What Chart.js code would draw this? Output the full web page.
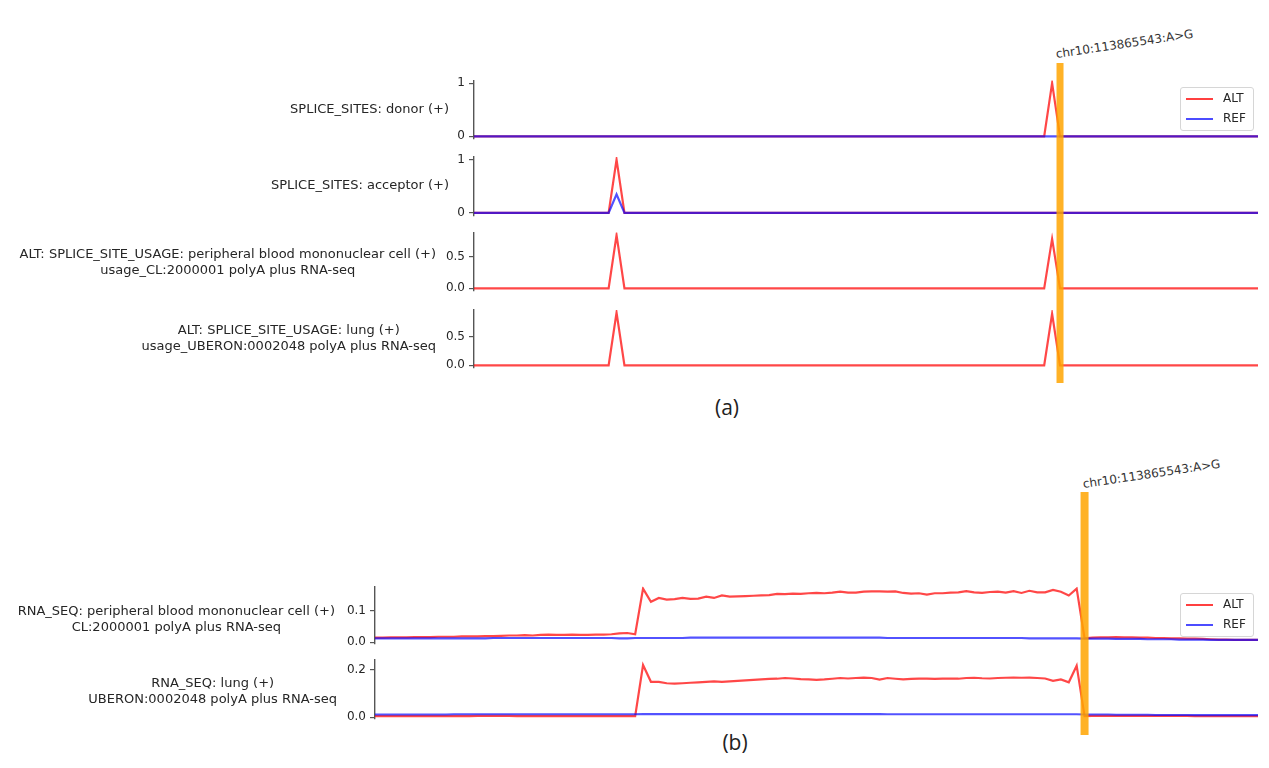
<!DOCTYPE html>
<html>
<head>
<meta charset="utf-8">
<script src="https://cdn.jsdelivr.net/npm/chart.js@4.4.1/dist/chart.umd.min.js"></script>
<style>
  html, body { margin:0; padding:0; background:#fff; width:1269px; height:768px; overflow:hidden; font-family:"DejaVu Sans", sans-serif; }
  .plot { position:absolute; }
  .lab { position:absolute; font-size:13px; color:#262626; text-align:center; white-space:pre; line-height:16px; transform:translateY(-50%); z-index:3; }
  .panel { position:absolute; font-family:"Open Sans", sans-serif; font-size:21px; color:#222; transform:translate(-50%,-50%); }
  .variant { position:absolute; font-size:12px; color:#333; white-space:nowrap; transform-origin:0% 100%; transform:rotate(-8.5deg); z-index:3; }
  .legend { position:absolute; width:72px; height:42px; border:1px solid #d6d6d6; border-radius:3px; background:rgba(255,255,255,0.85); z-index:4; font-size:12px; color:#262626; }
  .legend .row { position:absolute; left:5px; height:14px; }
  .legend .sw { position:absolute; left:0; top:6px; width:27px; height:2px; }
  .legend .tx { position:absolute; left:37px; top:-1px; line-height:14px; }
</style>
</head>
<body>

<!-- left labels (panel a) -->
<div class="lab" style="right:820px; top:109px;">SPLICE_SITES: donor (+)</div>
<div class="lab" style="right:820px; top:185px;">SPLICE_SITES: acceptor (+)</div>
<div class="lab" style="right:833px; top:261.5px;">ALT: SPLICE_SITE_USAGE: peripheral blood mononuclear cell (+)
usage_CL:2000001 polyA plus RNA-seq</div>
<div class="lab" style="right:833px; top:338px;">ALT: SPLICE_SITE_USAGE: lung (+)
usage_UBERON:0002048 polyA plus RNA-seq</div>
<!-- left labels (panel b) -->
<div class="lab" style="right:934px; top:619px;">RNA_SEQ: peripheral blood mononuclear cell (+)
CL:2000001 polyA plus RNA-seq</div>
<div class="lab" style="right:932px; top:691px;">RNA_SEQ: lung (+)
UBERON:0002048 polyA plus RNA-seq</div>

<div class="variant" style="left:1057px; top:47px;">chr10:113865543:A&gt;G</div>
<div class="variant" style="left:1084px; top:477px;">chr10:113865543:A&gt;G</div>

<div class="legend" style="left:1180px; top:87px;">
  <div class="row" style="top:4px;"><div class="sw" style="background:rgba(255,0,0,0.75)"></div><div class="tx">ALT</div></div>
  <div class="row" style="top:24px;"><div class="sw" style="background:rgba(0,0,255,0.7)"></div><div class="tx">REF</div></div>
</div>
<div class="legend" style="left:1180px; top:593px;">
  <div class="row" style="top:4px;"><div class="sw" style="background:rgba(255,0,0,0.75)"></div><div class="tx">ALT</div></div>
  <div class="row" style="top:24px;"><div class="sw" style="background:rgba(0,0,255,0.7)"></div><div class="tx">REF</div></div>
</div>

<div class="panel" style="left:727px; top:407px;">(a)</div>
<div class="panel" style="left:735px; top:742px;">(b)</div>

<script>
// ---------------- DATA ----------------
// Panel (a): splice-site tracks, x = bin index (0..99), variant at bin 74
const spliceXMax = 99;
const variantBinA = 74;
const donorPos    = [0, 72, 73, 74, 99];
const donorAlt    = [0, 0, 1.0, 0, 0];
const donorRef    = [0, 0, 0, 0, 0];
const acceptorPos = [0, 17, 18, 19, 99];
const acceptorAlt = [0, 0, 1.0, 0, 0];
const acceptorRef = [0, 0, 0.35, 0, 0];
const usagePos     = [0, 17, 18, 19, 72, 73, 74, 99];
const usagePbmcAlt = [0, 0, 0.85, 0, 0, 0.79, 0, 0];
const usageLungAlt = [0, 0, 0.93, 0, 0, 0.91, 0, 0];

// Panel (b): RNA-seq coverage, x = bin index (0..112), variant at bin 90
const variantBinB = 90;
const rnaPos = [0,1,2,3,4,5,6,7,8,9,10,11,12,13,14,15,16,17,18,19,20,21,22,23,24,25,26,27,28,29,
  30,31,32,33,34,35,36,37,38,39,40,41,42,43,44,45,46,47,48,49,50,51,52,53,54,55,56,57,58,59,
  60,61,62,63,64,65,66,67,68,69,70,71,72,73,74,75,76,77,78,79,80,81,82,83,84,85,86,87,88,89,
  90,91,92,93,94,95,96,97,98,99,100,101,102,103,104,105,106,107,108,109,110,111,112];
const rnaPbmcAlt = [
  0.015,0.015,0.016,0.016,0.016,0.017,0.017,0.017,0.018,0.018,
  0.018,0.019,0.019,0.019,0.020,0.020,0.021,0.022,0.022,0.023,
  0.022,0.024,0.025,0.024,0.024,0.025,0.024,0.024,0.025,0.025,
  0.026,0.029,0.030,0.026,0.172,0.130,0.142,0.137,0.138,0.142,
  0.139,0.140,0.146,0.142,0.150,0.146,0.147,0.148,0.149,0.150,
  0.151,0.155,0.154,0.156,0.155,0.157,0.158,0.157,0.159,0.162,
  0.159,0.159,0.162,0.163,0.163,0.162,0.163,0.158,0.156,0.157,
  0.153,0.157,0.157,0.159,0.160,0.164,0.160,0.158,0.161,0.162,
  0.159,0.164,0.158,0.165,0.160,0.160,0.168,0.162,0.150,0.172,
  0.013,0.015,0.016,0.016,0.017,0.016,0.016,0.015,0.015,0.014,
  0.014,0.013,0.013,0.012,0.012,0.011,0.010,0.009,0.009,0.008,
  0.008,0.008,0.008];
const rnaPbmcRef = [
  0.013,0.013,0.013,0.013,0.013,0.013,0.013,0.013,0.013,0.013,
  0.013,0.013,0.013,0.013,0.013,0.014,0.014,0.014,0.014,0.014,
  0.014,0.014,0.014,0.014,0.014,0.014,0.014,0.014,0.014,0.014,
  0.014,0.013,0.013,0.014,0.014,0.014,0.014,0.014,0.014,0.014,
  0.015,0.015,0.015,0.015,0.015,0.015,0.015,0.015,0.015,0.015,
  0.015,0.015,0.015,0.015,0.015,0.015,0.015,0.015,0.015,0.015,
  0.015,0.015,0.015,0.015,0.015,0.014,0.014,0.014,0.014,0.014,
  0.014,0.014,0.014,0.014,0.014,0.014,0.014,0.014,0.014,0.014,
  0.014,0.014,0.014,0.013,0.013,0.013,0.013,0.013,0.013,0.013,
  0.012,0.012,0.012,0.012,0.011,0.011,0.011,0.011,0.010,0.010,
  0.010,0.010,0.009,0.009,0.009,0.009,0.008,0.008,0.008,0.008,
  0.008,0.008,0.008];
const rnaLungAlt = [
  0.005,0.005,0.005,0.005,0.005,0.005,0.005,0.005,0.005,0.005,
  0.005,0.005,0.005,0.006,0.006,0.006,0.006,0.006,0.005,0.005,
  0.005,0.005,0.005,0.005,0.005,0.005,0.005,0.005,0.005,0.005,
  0.005,0.005,0.005,0.005,0.221,0.150,0.150,0.144,0.142,0.144,
  0.146,0.148,0.150,0.152,0.150,0.152,0.154,0.156,0.158,0.160,
  0.162,0.163,0.166,0.164,0.161,0.160,0.158,0.160,0.163,0.166,
  0.164,0.166,0.168,0.166,0.159,0.166,0.163,0.160,0.162,0.163,
  0.163,0.162,0.163,0.164,0.163,0.166,0.167,0.165,0.164,0.166,
  0.167,0.168,0.167,0.168,0.166,0.164,0.154,0.160,0.148,0.218,
  0.005,0.006,0.006,0.006,0.006,0.006,0.006,0.006,0.006,0.006,
  0.006,0.006,0.006,0.006,0.005,0.005,0.005,0.005,0.005,0.005,
  0.005,0.005,0.005];
const rnaLungRef = [
  0.012,0.012,0.012,0.012,0.012,0.012,0.012,0.012,0.012,0.012,
  0.013,0.013,0.013,0.013,0.013,0.013,0.013,0.013,0.013,0.013,
  0.013,0.013,0.013,0.013,0.013,0.013,0.013,0.013,0.013,0.013,
  0.013,0.013,0.013,0.013,0.014,0.014,0.014,0.014,0.014,0.014,
  0.014,0.014,0.014,0.014,0.014,0.014,0.014,0.014,0.014,0.014,
  0.014,0.014,0.014,0.014,0.014,0.014,0.014,0.014,0.014,0.014,
  0.014,0.014,0.014,0.014,0.014,0.013,0.013,0.013,0.013,0.013,
  0.013,0.013,0.013,0.013,0.013,0.013,0.013,0.013,0.013,0.013,
  0.013,0.013,0.013,0.013,0.013,0.013,0.013,0.013,0.013,0.013,
  0.012,0.012,0.012,0.012,0.011,0.011,0.011,0.011,0.011,0.010,
  0.010,0.010,0.010,0.010,0.009,0.009,0.009,0.009,0.009,0.009,
  0.009,0.009,0.009];

// ---------------- DRAWING ----------------
const ALT_COLOR = 'rgba(255,0,0,0.72)';
const REF_COLOR = 'rgba(0,0,255,0.68)';

const variantBar = {
  id: 'variantBar',
  afterDatasetsDraw(chart, args, opts) {
    const x = chart.scales.x.getPixelForValue(opts.at);
    const ctx = chart.ctx;
    ctx.save();
    ctx.fillStyle = 'rgba(255,165,0,0.85)';
    ctx.fillRect(x - opts.width / 2, 0, opts.width, chart.height);
    ctx.restore();
  }
};

function pts(pos, vals) { return pos.map((p, i) => ({ x: p, y: vals[i] })); }

function subplot(o) {
  const wrap = document.createElement('div');
  wrap.className = 'plot';
  wrap.style.left = o.left + 'px';
  wrap.style.top = o.top + 'px';
  wrap.style.width = o.width + 'px';
  wrap.style.height = o.height + 'px';
  const cv = document.createElement('canvas');
  cv.width = o.width; cv.height = o.height;
  cv.style.width = o.width + 'px'; cv.style.height = o.height + 'px';
  wrap.appendChild(cv);
  document.body.appendChild(wrap);

  const datasets = o.series.map(s => ({
    label: s.label,
    data: s.data,
    borderColor: s.label === 'ALT' ? ALT_COLOR : REF_COLOR,
    backgroundColor: 'transparent',
    borderWidth: 2.2,
    pointRadius: 0,
    tension: 0,
    fill: false,
    order: s.label === 'ALT' ? 2 : 1
  }));

  const xScale = o.labels
    ? { type: 'category', display: false, offset: false }
    : { type: 'linear', display: false, min: 0, max: o.xMax };

  new Chart(cv, {
    type: 'line',
    data: { labels: o.labels, datasets },
    plugins: [variantBar],
    options: {
      responsive: false,
      animation: false,
      events: [],
      layout: { padding: { top: o.padTop, bottom: o.padBottom, left: 0, right: 11 } },
      plugins: {
        legend: { display: false },
        tooltip: { enabled: false },
        variantBar: { at: o.variant, width: o.barWidth }
      },
      scales: {
        x: xScale,
        y: {
          min: o.yMin, max: o.yMax,
          afterBuildTicks: s => { s.ticks = o.yTicks.map(v => ({ value: v })); },
          afterFit: s => { s.width = o.axisW; s.paddingTop = 0; s.paddingBottom = 0; },
          ticks: {
            font: { family: 'DejaVu Sans', size: 12 },
            color: '#262626',
            padding: 4,
            callback: v => Number(v).toFixed(o.dec)
          },
          grid: { drawOnChartArea: false, drawTicks: true, tickLength: 5, color: '#555', lineWidth: 1.2 },
          border: { display: true, color: '#555', width: 1.4 }
        }
      }
    }
  });
}

// Panel (a)
const aCommon = { left: 380, width: 889, axisW: 94, xMax: spliceXMax, variant: variantBinA, barWidth: 7 };
subplot(Object.assign({}, aCommon, {
  top: 63, height: 85, padTop: 17.5, padBottom: 9,
  yMin: -0.05, yMax: 1.05, yTicks: [0, 1], dec: 0,
  series: [{ label: 'ALT', data: pts(donorPos, donorAlt) }, { label: 'REF', data: pts(donorPos, donorRef) }]
}));
subplot(Object.assign({}, aCommon, {
  top: 148, height: 76, padTop: 9, padBottom: 8.5,
  yMin: -0.05, yMax: 1.05, yTicks: [0, 1], dec: 0,
  series: [{ label: 'ALT', data: pts(acceptorPos, acceptorAlt) }, { label: 'REF', data: pts(acceptorPos, acceptorRef) }]
}));
subplot(Object.assign({}, aCommon, {
  top: 224, height: 76, padTop: 8.5, padBottom: 9,
  yMin: -0.0425, yMax: 0.8925, yTicks: [0, 0.5], dec: 1,
  series: [{ label: 'ALT', data: pts(usagePos, usagePbmcAlt) }]
}));
subplot(Object.assign({}, aCommon, {
  top: 300, height: 83, padTop: 10, padBottom: 15,
  yMin: -0.0465, yMax: 0.9765, yTicks: [0, 0.5], dec: 1,
  series: [{ label: 'ALT', data: pts(usagePos, usageLungAlt) }]
}));

// Panel (b)
const bCommon = { left: 281, width: 988, axisW: 94, labels: rnaPos, variant: variantBinB, barWidth: 8 };
subplot(Object.assign({}, bCommon, {
  top: 492, height: 160, padTop: 94.7, padBottom: 8.7,
  yMin: -0.003, yMax: 0.178, yTicks: [0, 0.1], dec: 1,
  series: [{ label: 'ALT', data: rnaPbmcAlt }, { label: 'REF', data: rnaPbmcRef }]
}));
subplot(Object.assign({}, bCommon, {
  top: 652, height: 83, padTop: 8, padBottom: 16.7,
  yMin: -0.004, yMax: 0.242, yTicks: [0, 0.2], dec: 1,
  series: [{ label: 'ALT', data: rnaLungAlt }, { label: 'REF', data: rnaLungRef }]
}));
</script>
</body>
</html>
